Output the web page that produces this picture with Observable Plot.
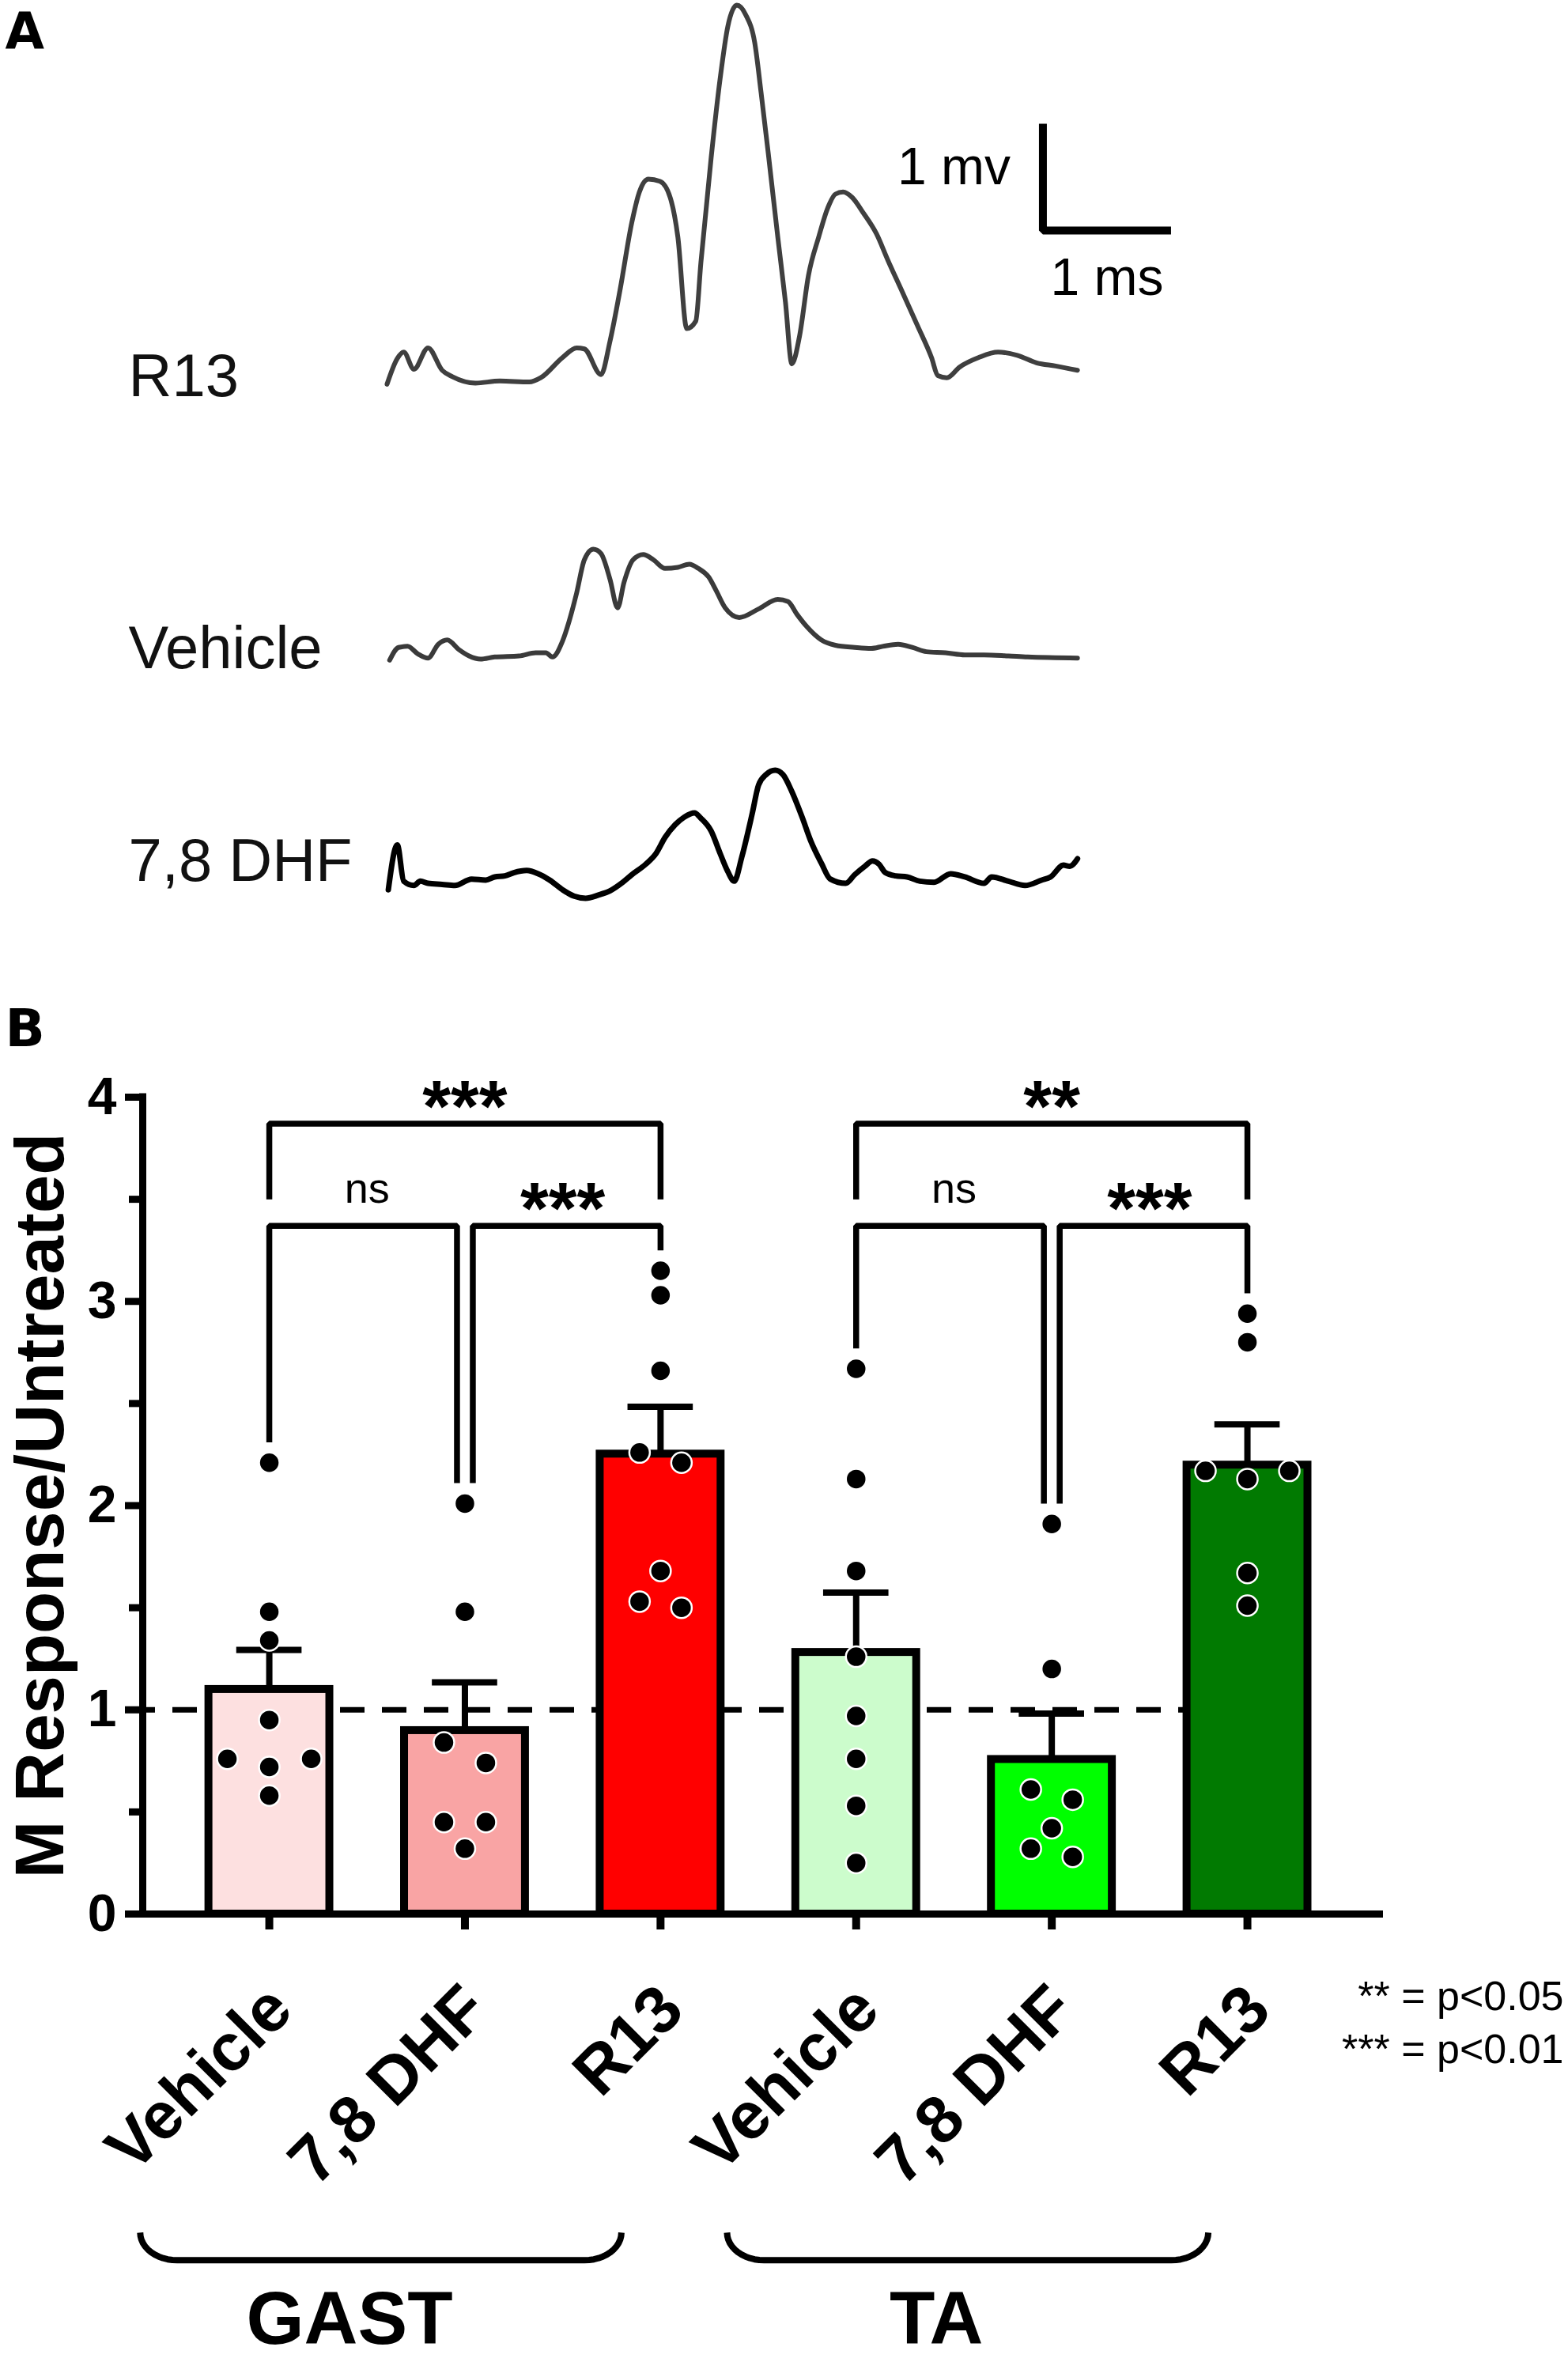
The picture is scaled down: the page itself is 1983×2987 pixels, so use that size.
<!DOCTYPE html>
<html>
<head>
<meta charset="utf-8">
<script src="https://cdn.jsdelivr.net/npm/d3@7"></script>
<script src="https://cdn.jsdelivr.net/npm/@observablehq/plot@0.6"></script>
<style>
html, body { margin: 0; padding: 0; background: #fff; }
#fig { position: relative; width: 1983px; height: 2987px; overflow: hidden; background: #fff; }
#panelA { position: absolute; left: 0; top: 0; }
#panelB { position: absolute; left: 0; top: 1200px; }
</style>
</head>
<body>
<div id="fig"><div id="panelA"></div><div id="panelB"></div></div>
<script>
// ---------------- DATA ----------------
// Panel A: M-wave traces, [time (ms), amplitude (mV)]
const traceNames = ["R13", "Vehicle", "7,8 DHF"];
const r13Trace = [[0.00,-0.02],[0.08,0.22],[0.13,0.28],[0.21,0.12],[0.32,0.32],[0.43,0.11],[0.51,0.05],[0.69,-0.01],[0.88,0.01],[1.11,0.00],[1.20,0.04],[1.37,0.23],[1.48,0.32],[1.54,0.31],[1.67,0.07],[1.74,0.38],[1.82,0.87],[1.91,1.49],[1.97,1.78],[2.04,1.90],[2.13,1.88],[2.21,1.73],[2.27,1.36],[2.34,0.50],[2.41,0.57],[2.45,1.12],[2.53,2.10],[2.60,2.84],[2.66,3.33],[2.73,3.53],[2.80,3.44],[2.87,3.18],[2.92,2.71],[2.98,2.10],[3.05,1.36],[3.11,0.75],[3.16,0.17],[3.22,0.43],[3.29,1.00],[3.37,1.36],[3.44,1.63],[3.50,1.76],[3.56,1.78],[3.63,1.73],[3.72,1.58],[3.82,1.39],[3.91,1.14],[4.02,0.85],[4.14,0.53],[4.25,0.23],[4.30,0.06],[4.37,0.04],[4.47,0.14],[4.62,0.23],[4.77,0.28],[4.92,0.25],[5.07,0.18],[5.22,0.15],[5.39,0.11]];
const vehicleTrace = [[0.02,-0.03],[0.09,0.09],[0.16,0.10],[0.24,0.03],[0.32,-0.01],[0.40,0.12],[0.47,0.16],[0.56,0.07],[0.64,0.01],[0.73,-0.02],[0.84,0.00],[1.03,0.01],[1.16,0.04],[1.24,0.04],[1.29,0.00],[1.37,0.15],[1.42,0.33],[1.48,0.60],[1.54,0.91],[1.61,1.01],[1.67,0.97],[1.74,0.73],[1.80,0.46],[1.85,0.70],[1.92,0.91],[2.00,0.96],[2.08,0.91],[2.17,0.83],[2.27,0.84],[2.36,0.87],[2.43,0.83],[2.51,0.75],[2.57,0.62],[2.64,0.46],[2.75,0.37],[2.90,0.45],[3.05,0.54],[3.13,0.52],[3.20,0.40],[3.28,0.28],[3.39,0.16],[3.50,0.11],[3.65,0.09],[3.78,0.08],[3.87,0.10],[3.99,0.12],[4.10,0.09],[4.21,0.05],[4.36,0.04],[4.51,0.02],[4.66,0.02],[4.85,0.01],[5.00,0.00],[5.39,-0.01]];
const dhfTrace = [[0.01,-0.05],[0.08,0.37],[0.13,0.03],[0.21,-0.01],[0.26,0.03],[0.32,0.01],[0.43,0.00],[0.53,-0.01],[0.66,0.05],[0.77,0.04],[0.84,0.07],[0.92,0.08],[0.99,0.11],[1.09,0.13],[1.18,0.10],[1.27,0.04],[1.37,-0.05],[1.46,-0.11],[1.55,-0.13],[1.65,-0.10],[1.74,-0.06],[1.84,0.02],[1.91,0.09],[2.02,0.19],[2.10,0.29],[2.17,0.44],[2.25,0.56],[2.32,0.63],[2.40,0.67],[2.45,0.62],[2.53,0.50],[2.60,0.29],[2.66,0.12],[2.71,0.03],[2.77,0.26],[2.85,0.66],[2.90,0.93],[2.96,1.03],[3.03,1.07],[3.09,1.03],[3.16,0.87],[3.24,0.63],[3.31,0.40],[3.39,0.20],[3.46,0.05],[3.58,0.01],[3.65,0.09],[3.73,0.17],[3.79,0.22],[3.84,0.19],[3.89,0.11],[3.97,0.08],[4.06,0.07],[4.16,0.03],[4.27,0.02],[4.40,0.10],[4.51,0.07],[4.66,0.01],[4.72,0.07],[4.85,0.03],[4.98,-0.01],[5.11,0.04],[5.18,0.07],[5.28,0.18],[5.33,0.17],[5.39,0.24]];
const scaleBarSize = {ms: 1, mv: 1};

// Panel B: M response / untreated
const muscles = ["GAST", "TA"];
const treatments = ["Vehicle", "7,8 DHF", "R13"];
const gastVehicle = [2.21, 1.48, 1.34, 0.95, 0.76, 0.72, 0.76, 0.58];
const gastDHF     = [2.01, 1.48, 0.84, 0.74, 0.45, 0.45, 0.32];
const gastR13     = [3.15, 3.03, 2.66, 2.26, 2.21, 1.68, 1.53, 1.50];
const taVehicle   = [2.67, 2.13, 1.68, 1.26, 0.97, 0.76, 0.53, 0.25];
const taDHF       = [1.91, 1.20, 0.61, 0.56, 0.42, 0.32, 0.28];
const taR13       = [2.94, 2.80, 2.17, 2.13, 2.17, 1.67, 1.51];
const yTicks = [0, 1, 2, 3, 4];
const yMinorTicks = [0.5, 1.5, 2.5, 3.5];
const referenceLevel = 1;
const yTitle = "M Response/Untreated";
const comparisons = [
  {muscle: "GAST", a: "Vehicle", b: "R13", label: "***", tier: 2},
  {muscle: "GAST", a: "Vehicle", b: "7,8 DHF", label: "ns", tier: 1},
  {muscle: "GAST", a: "7,8 DHF", b: "R13", label: "***", tier: 1},
  {muscle: "TA", a: "Vehicle", b: "R13", label: "**", tier: 2},
  {muscle: "TA", a: "Vehicle", b: "7,8 DHF", label: "ns", tier: 1},
  {muscle: "TA", a: "7,8 DHF", b: "R13", label: "***", tier: 1}
];
const pLegend = ["** = p<0.05", "*** = p<0.01"];

// ---------------- STYLE / LAYOUT ----------------
const FONT = '"Liberation Sans", Arial, Helvetica, sans-serif';
const barColors = ["#fde0e0", "#f9a4a4", "#ff0000", "#ccfccc", "#00ff00", "#017a01"];
const traceStyle = [
  {color: "#3f3f3f", width: 6, offset: 0, labelDv: -0.136},
  {color: "#3a3a3a", width: 6, offset: -2.576, labelDv: -0.108},
  {color: "#000000", width: 7, offset: -4.706, labelDv: 0.036}
];
const LA = {width: 1983, height: 1180, x0px: 489, pxPerMs: 162, y0px: 482.6, pxPerMv: 135, barT: 5.12, barV: 1.42};
const LB = {width: 1983, height: 1787, mt: 187, mb: 567, ml: 180, mr: 234, xDomain: [-0.647, 5.695], yDomain: [0, 4]};
const pxX = (LB.width - LB.ml - LB.mr) / (LB.xDomain[1] - LB.xDomain[0]);
const pxY = (LB.height - LB.mt - LB.mb) / (LB.yDomain[1] - LB.yDomain[0]);

// ---------------- PANEL A ----------------
const traces = [r13Trace, vehicleTrace, dhfTrace].map((data, k) => ({name: traceNames[k], data, ...traceStyle[k]}));
const sb = {t: LA.barT, v: LA.barV, ...scaleBarSize};

const plotA = Plot.plot({
  width: LA.width, height: LA.height,
  marginTop: 0, marginBottom: 0, marginLeft: 0, marginRight: 0,
  x: {domain: [-LA.x0px / LA.pxPerMs, (LA.width - LA.x0px) / LA.pxPerMs], axis: null},
  y: {domain: [(LA.y0px - LA.height) / LA.pxPerMv, LA.y0px / LA.pxPerMv], axis: null},
  style: {fontFamily: FONT, background: "transparent", color: "#000", overflow: "visible"},
  marks: [
    ...traces.map(tr => Plot.line(tr.data, {
      x: d => d[0], y: d => d[1] + tr.offset, stroke: tr.color, strokeWidth: tr.width,
      curve: "monotone-x", strokeLinejoin: "round", strokeLinecap: "round"
    })),
    Plot.text(traces, {frameAnchor: "left", dx: 162, y: d => d.offset + d.labelDv, text: "name",
      textAnchor: "start", lineAnchor: "bottom", fontSize: 76, fill: "#111"}),
    Plot.line([[sb.t, sb.v + sb.mv], [sb.t, sb.v], [sb.t + sb.ms, sb.v]], {
      x: d => d[0], y: d => d[1], stroke: "#000", strokeWidth: 10, strokeLinejoin: "miter", strokeLinecap: "butt"
    }),
    Plot.text([`${sb.mv} mv`], {x: sb.t, y: sb.v + 0.59 * sb.mv, dx: -41, text: d => d,
      textAnchor: "end", lineAnchor: "middle", fontSize: 66, fill: "#000"}),
    Plot.text([`${sb.ms} ms`], {x: sb.t + sb.ms / 2, y: sb.v, dy: 35, text: d => d,
      textAnchor: "middle", lineAnchor: "top", fontSize: 66, fill: "#000"}),
    Plot.text(["A"], {frameAnchor: "top-left", dx: 6, dy: 16, text: d => d, textAnchor: "start",
      lineAnchor: "top", fontSize: 64, fontWeight: "bold", fontFamily: '"DejaVu Sans", sans-serif', fill: "#000"})
  ]
});
document.getElementById("panelA").appendChild(plotA);

// ---------------- PANEL B ----------------
const responses = [gastVehicle, gastDHF, gastR13, taVehicle, taDHF, taR13];
const bars = muscles.flatMap((m, gi) => treatments.map((t, ti) => {
  const i = gi * treatments.length + ti;
  const values = responses[i];
  const mean = d3.mean(values);
  const sem = d3.deviation(values) / Math.sqrt(values.length);
  return {i, muscle: m, treatment: t, values, mean, sem, upper: mean + sem, color: barColors[i]};
}));

// GraphPad-like scatter: points closer than ROW_PX vertically share a row and are spread sideways
const ROW_PX = 28, SPREAD_PX = 53;
function sideOffsets(values) {
  const order = values.map((v, k) => k).sort((a, b) => values[a] - values[b]);
  const rows = []; let cur = null;
  for (const k of order) {
    if (cur && (values[k] - values[cur[0]]) * pxY < ROW_PX) cur.push(k);
    else { cur = [k]; rows.push(cur); }
  }
  const off = values.map(() => 0);
  for (const row of rows) {
    const slots = row.length % 2 ? [0, -1, 1, -2, 2, -3, 3] : [0.5, -0.5, 1.5, -1.5, 2.5, -2.5];
    row.forEach((k, j) => { off[k] = slots[j] * SPREAD_PX / pxX; });
  }
  return off;
}
const points = bars.flatMap(b => {
  const off = sideOffsets(b.values);
  return b.values.map((v, k) => ({x: b.i + off[k], y: v}));
});

// Significance brackets
const TIER_LEVEL = {1: 3.37, 2: 3.87};
const LEG_GAP = 0.10, TOP_LEG_GAP = 0.13, NUDGE = 10 / pxX;
const idxOf = (m, t) => muscles.indexOf(m) * treatments.length + treatments.indexOf(t);
const brackets = comparisons.map((c, id) => {
  const ia = idxOf(c.muscle, c.a), ib = idxOf(c.muscle, c.b);
  const level = TIER_LEVEL[c.tier];
  const shared = idx => comparisons.filter(o => o !== c && o.tier === c.tier && o.muscle === c.muscle &&
      (idxOf(o.muscle, o.a) === idx || idxOf(o.muscle, o.b) === idx)).length > 0;
  const xa = ia + (shared(ia) ? NUDGE : 0);
  const xb = ib - (shared(ib) ? NUDGE : 0);
  const legEnd = idx => c.tier > 1 ? TIER_LEVEL[c.tier - 1] + TOP_LEG_GAP : d3.max(bars[idx].values) + LEG_GAP;
  return {id, label: c.label, level, xm: (ia + ib) / 2,
    pts: [{x: xa, y: legEnd(ia)}, {x: xa, y: level}, {x: xb, y: level}, {x: xb, y: legEnd(ib)}]};
});
const bracketPts = brackets.flatMap(b => b.pts.map(p => ({...p, id: b.id})));

// Group braces under the tick labels
const BRACE = {left: -1.66, right: 0.80, tip: -1.56, rx: 47 / pxX, ry: 35 / pxY, labelShift: -0.59, labelY: -2.105};
const braceGroups = muscles.map((m, gi) => ({muscle: m, center: gi * treatments.length + (treatments.length - 1) / 2}));
const bracePts = braceGroups.flatMap(g => {
  const x1 = g.center + BRACE.left, x2 = g.center + BRACE.right, yT = BRACE.tip, n = 12;
  const pts = [];
  for (let k = 0; k <= n; k++) { const th = (k / n) * Math.PI / 2; pts.push({x: x1 + BRACE.rx - BRACE.rx * Math.cos(th), y: yT - BRACE.ry * Math.sin(th)}); }
  for (let k = n; k >= 0; k--) { const th = (k / n) * Math.PI / 2; pts.push({x: x2 - BRACE.rx + BRACE.rx * Math.cos(th), y: yT - BRACE.ry * Math.sin(th)}); }
  return pts.map(p => ({...p, muscle: g.muscle}));
});

const xmin = LB.xDomain[0], xmax = LB.xDomain[1];
const plotB = Plot.plot({
  width: LB.width, height: LB.height,
  marginTop: LB.mt, marginBottom: LB.mb, marginLeft: LB.ml, marginRight: LB.mr,
  x: {domain: LB.xDomain, axis: null, label: null},
  y: {domain: LB.yDomain, axis: null, label: null},
  color: {type: "identity"},
  style: {fontFamily: FONT, background: "transparent", color: "#000", overflow: "visible"},
  marks: [
    // reference dashed line (behind bars)
    Plot.ruleY([referenceLevel], {x1: xmin, x2: 5, stroke: "#000", strokeWidth: 7,
      strokeDasharray: "31,22", strokeDashoffset: 15}),
    // bars
    Plot.rect(bars, {x1: d => d.i - 0.309, x2: d => d.i + 0.309, y1: () => 0, y2: "mean",
      fill: "color", stroke: "#000", strokeWidth: 10}),
    // SEM (upper only)
    Plot.ruleX(bars, {x: "i", y1: "mean", y2: "upper", stroke: "#000", strokeWidth: 8}),
    Plot.ruleY(bars, {y: "upper", x1: d => d.i - 0.167, x2: d => d.i + 0.167, stroke: "#000", strokeWidth: 8}),
    // individual animals
    Plot.dot(points, {x: "x", y: "y", r: 13, fill: "#000", stroke: "#fff", strokeWidth: 2.5}),
    // axes
    Plot.ruleX([xmin], {y1: 0, y2: 4, stroke: "#000", strokeWidth: 9, strokeLinecap: "square"}),
    Plot.ruleY([0], {x1: xmin, x2: xmax, stroke: "#000", strokeWidth: 9}),
    Plot.axisY({ticks: yTicks, tickSize: 22, tickPadding: 11, tickFormat: d3.format("d"),
      fontSize: 66, fontWeight: "bold", strokeWidth: 9, label: null}),
    Plot.axisY({ticks: yMinorTicks, tickSize: 17, tickFormat: () => "", strokeWidth: 9, label: null}),
    Plot.axisX({ticks: bars.map(b => b.i), tickSize: 20, tickFormat: () => "", strokeWidth: 10, label: null}),
    Plot.text(bars, {x: "i", y: () => 0, text: "treatment", rotate: -45, textAnchor: "end", lineAnchor: "middle",
      dx: 14, dy: 106, fontSize: 84, fontWeight: "bold", fill: "#000"}),
    // y title
    Plot.text([yTitle], {frameAnchor: "left", dx: -128, rotate: -90, text: d => d, textAnchor: "middle",
      lineAnchor: "middle", fontSize: 87, fontWeight: "bold", fill: "#000"}),
    // brackets
    Plot.line(bracketPts, {x: "x", y: "y", z: "id", stroke: "#000", strokeWidth: 7.5,
      strokeLinejoin: "miter", strokeLinecap: "butt"}),
    Plot.text(brackets.filter(b => b.label !== "ns"), {x: "xm", y: "level", text: "label", dy: 10,
      lineAnchor: "bottom", textAnchor: "middle", fontSize: 92, fontWeight: "bold", fill: "#000"}),
    Plot.text(brackets.filter(b => b.label === "ns"), {x: "xm", y: "level", text: "label", dy: -29,
      lineAnchor: "bottom", textAnchor: "middle", fontSize: 54, fill: "#000"}),
    // group braces & labels
    Plot.line(bracePts, {x: "x", y: "y", z: "muscle", stroke: "#000", strokeWidth: 8, strokeLinecap: "butt"}),
    Plot.text(braceGroups, {x: d => d.center + BRACE.labelShift, y: () => BRACE.labelY, text: "muscle",
      lineAnchor: "bottom", textAnchor: "middle", fontSize: 94, fontWeight: "bold", fill: "#000"}),
    // p-value legend
    Plot.text(pLegend, {frameAnchor: "right", y: (d, i) => -0.472 - i * 0.256, dx: 228, text: d => d,
      textAnchor: "end", lineAnchor: "bottom", fontSize: 52, fill: "#000"}),
    // panel letter
    Plot.text(["B"], {frameAnchor: "top-left", dx: -174, dy: -65, text: d => d, textAnchor: "start",
      lineAnchor: "bottom", fontSize: 66, fontWeight: "bold", fontFamily: '"DejaVu Sans", sans-serif', fill: "#000"})
  ]
});
document.getElementById("panelB").appendChild(plotB);
</script>
</body>
</html>
